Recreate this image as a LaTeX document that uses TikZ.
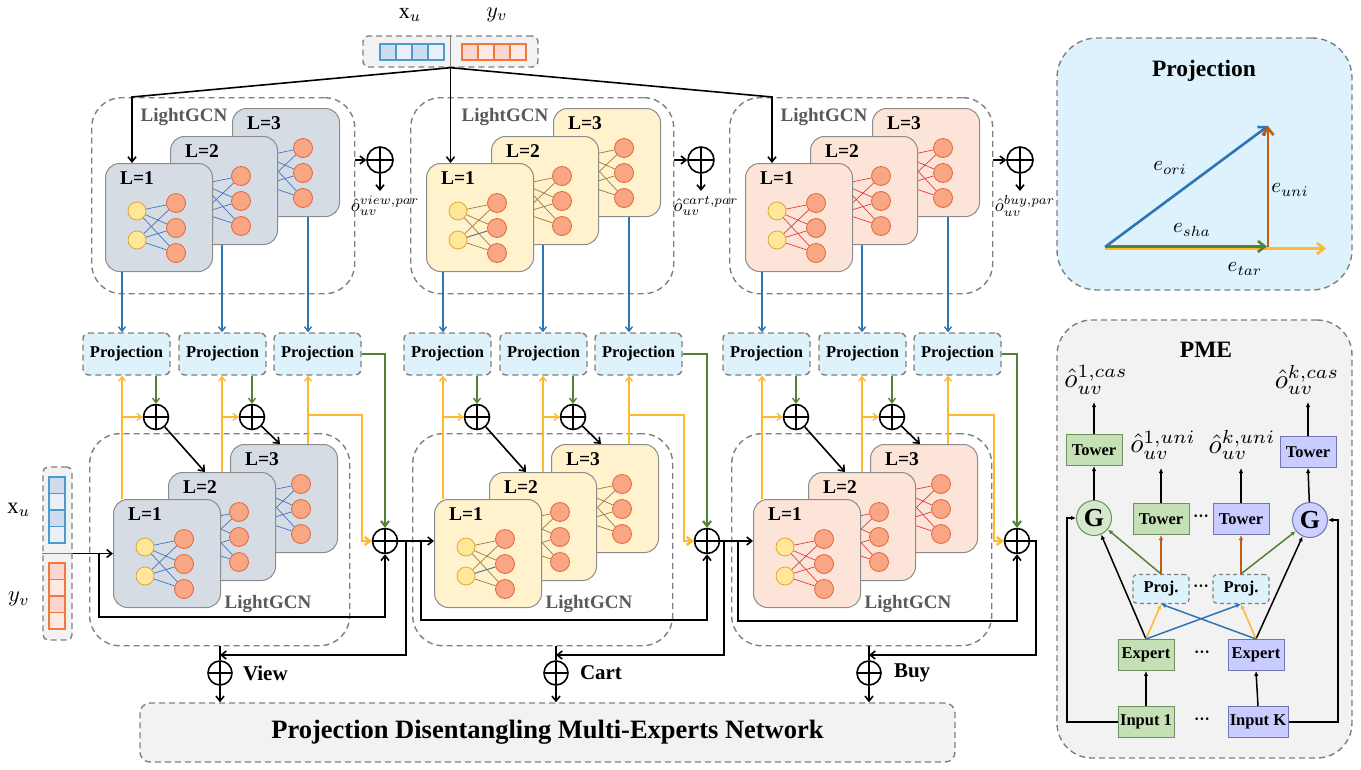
\documentclass[tikz,border=0pt]{standalone}
\usepackage{fontspec}
\usepackage{graphicx}
\setmainfont{Liberation Serif}
\usetikzlibrary{arrows.meta,calc}

\definecolor{dgray}{HTML}{7F7F7F}
\definecolor{projblue}{HTML}{DEF2FB}
\definecolor{panelblue}{HTML}{DDF2FC}
\definecolor{lgray}{HTML}{F2F2F2}
\definecolor{viewc}{HTML}{D6DCE4}
\definecolor{cartc}{HTML}{FFF2CD}
\definecolor{buyc}{HTML}{FDE4D8}
\definecolor{viewe}{HTML}{4472C4}
\definecolor{carte}{HTML}{9C7A3C}
\definecolor{buye}{HTML}{E03C3C}
\definecolor{ynode}{HTML}{FFE699}
\definecolor{ynodeb}{HTML}{D9A93A}
\definecolor{onode}{HTML}{F8A683}
\definecolor{onodeb}{HTML}{E2683A}
\definecolor{cardb}{HTML}{8C8C8C}
\definecolor{arrblue}{HTML}{2E75B6}
\definecolor{arrgreen}{HTML}{548235}
\definecolor{arryel}{HTML}{FFB92E}
\definecolor{arrred}{HTML}{C55A11}
\definecolor{pmeg}{HTML}{C5E0B4}
\definecolor{pmegb}{HTML}{6F8F5F}
\definecolor{pmegc}{HTML}{D5E8CC}
\definecolor{pmep}{HTML}{C9CCFF}
\definecolor{pmepb}{HTML}{7175B0}
\definecolor{pmepc}{HTML}{CDD1FF}
\definecolor{gcntext}{HTML}{595959}
\definecolor{cellb1}{HTML}{CFDCEC}
\definecolor{cellb2}{HTML}{E9EEF7}
\definecolor{cellbb}{HTML}{4A9BD4}
\definecolor{cello1}{HTML}{FCD5CF}
\definecolor{cello2}{HTML}{FDE8E3}
\definecolor{cellob}{HTML}{F0783A}

\newcommand\smath[2]{\scalebox{#1}{\fontsize{10}{12}\selectfont$#2$}}

\tikzset{
  dashbox/.style={draw=dgray, dash pattern=on 6pt off 4pt, line width=1.4pt},
  dashblock/.style={dashbox, rounded corners=30pt, anchor=north west, inner sep=0pt},
  card/.style={draw=cardb, line width=1pt, rounded corners=14pt, anchor=north west, minimum width=107pt, minimum height=108pt, inner sep=0pt},
  cardlbl/.style={font=\fontsize{19.5}{21}\selectfont\bfseries, inner sep=0pt},
  gcnlbl/.style={font=\fontsize{19}{21}\selectfont\bfseries, text=gcntext, inner sep=0pt},
  ynd/.style={circle, draw=ynodeb, fill=ynode, minimum size=18pt, inner sep=0pt, line width=0.8pt},
  ond/.style={circle, draw=onodeb, fill=onode, minimum size=19pt, inner sep=0pt, line width=0.8pt},
  projbox/.style={dashbox, fill=projblue, rounded corners=6pt, minimum width=87pt, minimum height=42pt, inner sep=0pt, font=\fontsize{16.5}{18}\selectfont\bfseries},
  oplus/.style={circle, draw=black, line width=1.6pt, minimum size=#1, inner sep=0pt,
     path picture={\draw[line width=1.6pt] (path picture bounding box.north) -- (path picture bounding box.south) (path picture bounding box.west) -- (path picture bounding box.east);}},
  oplus/.default=25pt,
  barb/.style={-{Straight Barb[length=5pt,width=8pt]}},
  blk/.style={draw=black, line width=1.6pt},
  blkarr/.style={blk, barb},
  bluearr/.style={draw=arrblue, line width=1.4pt, -{Straight Barb[length=4.5pt,width=7pt]}},
  greenarr/.style={draw=arrgreen, line width=1.4pt, -{Straight Barb[length=4.5pt,width=7pt]}},
  greenthick/.style={draw=arrgreen, line width=2.2pt, -{Straight Barb[length=5pt,width=8pt]}},
  yelarr/.style={draw=arryel, line width=1.4pt, -{Straight Barb[length=4.5pt,width=7pt]}},
  yelthick/.style={draw=arryel, line width=2.4pt, -{Straight Barb[length=5pt,width=8pt]}},
  netedge/.style={line width=0.7pt},
  mlbl/.style={inner sep=0pt},
  bigbold/.style={font=\fontsize{21}{23}\selectfont\bfseries, inner sep=0pt},
  paneltitle/.style={font=\fontsize{23.5}{26}\selectfont\bfseries, inner sep=0pt},
  vec/.style={line width=2.6pt, -{Straight Barb[length=7pt,width=11pt]}},
  pmebox/.style={line width=1pt, minimum width=56pt, minimum height=31pt, inner sep=0pt, font=\fontsize{16.5}{18}\selectfont\bfseries},
  gbox/.style={pmebox, draw=pmegb, fill=pmeg},
  pbox/.style={pmebox, draw=pmepb, fill=pmep},
  gcirc/.style={circle, draw=pmegb, fill=pmegc, line width=1pt, minimum size=35pt, inner sep=0pt, font=\fontsize{26}{28}\selectfont\bfseries},
  pcirc/.style={gcirc, draw=pmepb, fill=pmepc},
  pmeproj/.style={dashbox, line width=1.2pt, dash pattern=on 4pt off 3pt, fill=projblue, rounded corners=4pt, minimum width=56pt, minimum height=29pt, inner sep=0pt, font=\fontsize{16.5}{18}\selectfont\bfseries},
  dotlbl/.style={font=\fontsize{16}{18}\selectfont\bfseries, inner sep=0pt},
  pmearr/.style={draw=black, line width=1.5pt, -{Latex[length=5pt,width=4.5pt]}},
  redarr/.style={draw=arrred, line width=1.5pt, -{Latex[length=5pt,width=4.5pt]}},
  grnarr/.style={draw=arrgreen, line width=1.5pt, -{Latex[length=5pt,width=4.5pt]}},
  ylarr/.style={draw=arryel, line width=1.5pt, -{Latex[length=5pt,width=4.5pt]}},
  blarr/.style={draw=arrblue, line width=1.5pt, -{Latex[length=5pt,width=4.5pt]}},
}

\newcommand\gcncard[6]{%
  \node[card, fill=#5] (#1) at ({#2},{#3}) {};
  \node[cardlbl] at ({#2+32},{#3+15}) {#4};
  \node[ynd] (#1y1) at ({#2+32},{#3+48}) {};
  \node[ynd] (#1y2) at ({#2+32},{#3+77}) {};
  \node[ond] (#1o1) at ({#2+71},{#3+40}) {};
  \node[ond] (#1o2) at ({#2+71},{#3+65}) {};
  \node[ond] (#1o3) at ({#2+71},{#3+90}) {};
  \foreach \ya in {1,2}{\foreach \ob in {1,2,3}{\draw[netedge, draw=#6] (#1y\ya) -- (#1o\ob);}}%
}

\begin{document}
\begin{tikzpicture}[x=1pt,y=-1pt]
\useasboundingbox (0,0) rectangle (1361,769);

% ---------- top input ----------
\node[dashbox, fill=lgray, rounded corners=6pt, minimum width=175pt, minimum height=31pt, inner sep=0pt] (inT) at (450.5,51.5) {};
\foreach \i/\c in {0/cellb1,1/cellb2,2/cellb1,3/cellb2}
  \draw[draw=cellbb, line width=1.2pt, fill=\c] ({380+16*\i},44) rectangle ({396+16*\i},60);
\foreach \i/\c in {0/cello1,1/cello2,2/cello1,3/cello2}
  \draw[draw=cellob, line width=1.2pt, fill=\c] ({462+16*\i},44) rectangle ({478+16*\i},60);
\draw[dgray, line width=1.4pt] (inT.north) -- (inT.south);
\node[mlbl, anchor=base] (xuT) at (410,18) {\smath{2.2}{\mathrm{x}_u}};
\node[mlbl, anchor=base] (yvT) at (497,17) {\smath{2.2}{y_v}};

% ---------- blocks ----------
\foreach \bk/\ofs/\cf/\ce/\tx/\bx/\px/\nm in {1/0/viewc/viewe/91/89/385/view, 2/321/cartc/carte/410/412/707/cart, 3/640/buyc/buye/729/731/1017/buy}{
  % top LightGCN
  \node[dashblock, minimum width=263pt, minimum height=196pt] (T\bk) at (\tx,97) {};
  \node[gcnlbl] at ({184+\ofs},117) {LightGCN};
  \gcncard{t\bk c3}{232+\ofs}{108}{L=3}{\cf}{\ce}
  \gcncard{t\bk c2}{170+\ofs}{136}{L=2}{\cf}{\ce}
  \gcncard{t\bk c1}{105+\ofs}{163}{L=1}{\cf}{\ce}
  \node[oplus=26pt] (tp\bk) at ({380+\ofs},160) {};
  \draw[blkarr] (T\bk.east |- tp\bk) -- (tp\bk);
  \coordinate (td\bk) at ({380+\ofs},191);
  \draw[blkarr] (tp\bk) -- (td\bk);
  \node[mlbl] at ({385+\ofs},206) {\smath{1.85}{\hat{o}_{uv}^{\nm,par}}};
  % projection boxes
  \coordinate (bx\bk 1) at ({122+\ofs},0);
  \coordinate (bx\bk 2) at ({222+\ofs},0);
  \coordinate (bx\bk 3) at ({308+\ofs},0);
  \node[projbox] (p\bk 1) at ({126.5+\ofs},354) {Projection};
  \node[projbox] (p\bk 2) at ({222.5+\ofs},354) {Projection};
  \node[projbox] (p\bk 3) at ({317.5+\ofs},354) {Projection};
  \draw[bluearr] (bx\bk 1 |- t\bk c1.south) -- (bx\bk 1 |- p\bk 1.north);
  \draw[bluearr] (bx\bk 2 |- t\bk c2.south) -- (bx\bk 2 |- p\bk 2.north);
  \draw[bluearr] (bx\bk 3 |- t\bk c3.south) -- (bx\bk 3 |- p\bk 3.north);
  % bottom LightGCN
  \node[dashblock, minimum width=260pt, minimum height=212pt] (B\bk) at (\bx,433) {};
  \node[gcnlbl] at ({268+\ofs},604) {LightGCN};
  \gcncard{b\bk c3}{230+\ofs}{444}{L=3}{\cf}{\ce}
  \gcncard{b\bk c2}{168+\ofs}{472}{L=2}{\cf}{\ce}
  \gcncard{b\bk c1}{113+\ofs}{499}{L=1}{\cf}{\ce}
  % middle sums
  \node[oplus] (m\bk 1) at ({156+\ofs},417) {};
  \node[oplus] (m\bk 2) at ({252+\ofs},417) {};
  \node[oplus] (P\bk) at (\px,541) {};
  \draw[greenarr] (m\bk 1 |- p\bk 1.south) -- (m\bk 1);
  \draw[greenarr] (m\bk 2 |- p\bk 2.south) -- (m\bk 2);
  \draw[yelarr] (bx\bk 1 |- b\bk c1.north) -- (bx\bk 1 |- p\bk 1.south);
  \draw[yelarr] (bx\bk 1 |- m\bk 1) -- (m\bk 1);
  \draw[yelarr] (bx\bk 2 |- b\bk c2.north) -- (bx\bk 2 |- p\bk 2.south);
  \draw[yelarr] (bx\bk 2 |- m\bk 2) -- (m\bk 2);
  \draw[yelarr] (bx\bk 3 |- b\bk c3.north) -- (bx\bk 3 |- p\bk 3.south);
  \coordinate (yb\bk) at ({308+\ofs},415);
  \coordinate (yd\bk) at ({\px-23},541);
  \draw[yelthick] (yb\bk) -| (yd\bk) -- (P\bk.west);
  \draw[greenthick] (p\bk 3.east) -| (P\bk.north);
  \draw[blkarr] (m\bk 1) -- ([xshift=37pt]b\bk c2.north west);
  \draw[blkarr] (m\bk 2) -- ([xshift=50pt]b\bk c3.north west);
}
\draw[netedge, draw=viewe] (t2c1y2) -- (t2c1o2);
\draw[netedge, draw=viewe] (b2c1y2) -- (b2c1o2);

% ---------- top input connectors ----------
\coordinate (a1) at ([xshift=27pt]t1c1.north west);
\coordinate (a3) at ([xshift=27pt]t3c1.north west);
\draw[blkarr] (inT.south) -- (a1 |- T1.north) -- (a1);
\draw[blkarr] (inT.south) -- (inT.south |- t2c1.north);
\draw[blkarr] (inT.south) -- (a3 |- T3.north) -- (a3);

% ---------- left input ----------
\node[dashbox, fill=lgray, rounded corners=5pt, minimum width=29pt, minimum height=173pt, inner sep=0pt] (inL) at (57.5,553.5) {};
\foreach \i/\c in {0/cellb1,1/cellb2,2/cellb1,3/cellb2}
  \draw[draw=cellbb, line width=1.2pt, fill=\c] (49,{477+16.5*\i}) rectangle (65,{493.5+16.5*\i});
\foreach \i/\c in {0/cello1,1/cello2,2/cello1,3/cello2}
  \draw[draw=cellob, line width=1.2pt, fill=\c] (49,{563+16.5*\i}) rectangle (65,{579.5+16.5*\i});
\draw[dgray, line width=1.4pt] (inL.west) -- (inL.east);
\node[mlbl] (xuL) at (19,510) {\smath{2.25}{\mathrm{x}_u}};
\node[mlbl] (yvL) at (19,599) {\smath{2.25}{y_v}};

% ---------- bottom title ----------
\node[dashbox, fill=lgray, rounded corners=10pt, minimum width=815pt, minimum height=59pt, inner sep=0pt, font=\fontsize{26.5}{28}\selectfont\bfseries] (title) at (547.5,732.5) {Projection Disentangling Multi-Experts Network};

% ---------- behaviour sums ----------
\node[oplus=24pt] (V) at (220,673) {};
\node[oplus=24pt] (C) at (556,673) {};
\node[oplus=24pt] (Y) at (869,673) {};
\node[bigbold, anchor=west] at ([xshift=10pt]V.east) {View};
\node[bigbold, anchor=west] at ([xshift=11pt]C.east) {Cart};
\node[bigbold, anchor=west] at ([xshift=12pt]Y.east) {Buy};
\foreach \s/\bb in {V/B1,C/B2,Y/B3}{
  \draw[blk] (\s |- \bb.south) -- (\s.north);
  \draw[blkarr] (\s.south) -- (\s |- title.north);
}

% ---------- main flow ----------
\draw[blkarr] (inL.east) -- (b1c1.west);
\coordinate (j1) at (99,553.5);
\coordinate (l1) at (99,617);
\draw[blkarr] (j1) -- (l1) -| (P1.south);
\draw[blkarr] (P1.east) -- (P1 -| b2c1.west);
\coordinate (j2a) at (406,541);
\coordinate (vj) at (220,655);
\draw[blkarr] (j2a) |- (vj);
\coordinate (j2b) at (421,541);
\coordinate (l2) at (421,620);
\draw[blkarr] (j2b) -- (l2) -| (P2.south);
\draw[blkarr] (P2.east) -- (P2 -| b3c1.west);
\coordinate (j3a) at (724,541);
\coordinate (cj) at (556,655);
\draw[blkarr] (j3a) |- (cj);
\coordinate (j3b) at (738,541);
\coordinate (l3) at (738,621);
\draw[blkarr] (j3b) -- (l3) -| (P3.south);
\coordinate (j4) at (1036,541);
\coordinate (bj) at (869,655);
\draw[blkarr] (P3.east) -- (j4) |- (bj);

% ---------- Projection panel ----------
\node[dashbox, fill=panelblue, rounded corners=40pt, minimum width=295pt, minimum height=252pt, inner sep=0pt] (projP) at (1204.5,164) {};
\node[paneltitle] at (1204,71) {Projection};
\coordinate (vO) at (1105,247);
\coordinate (vOy) at (1105,248.5);
\coordinate (vC) at (1326,248.5);
\coordinate (vB) at (1268,247);
\coordinate (vBg) at (1267,246.5);
\coordinate (vOg) at (1105,246.5);
\coordinate (vA) at (1268,126);
\draw[vec, draw=arryel] (vOy) -- (vC);
\draw[vec, draw=arrgreen] (vOg) -- (vBg);
\draw[vec, draw=arrblue] (vO) -- (vA);
\draw[vec, draw=arrred] (vB) -- (vA);
\node[mlbl] at (1170,168) {\smath{2.1}{e_{ori}}};
\node[mlbl] at (1290,190) {\smath{2.1}{e_{uni}}};
\node[mlbl] at (1192,230) {\smath{2.1}{e_{sha}}};
\node[mlbl] at (1245,269) {\smath{2.1}{e_{tar}}};

% ---------- PME panel ----------
\node[dashbox, fill=lgray, rounded corners=35pt, minimum width=295pt, minimum height=438pt, inner sep=0pt] (pme) at (1204.5,539) {};
\node[paneltitle] at (1206,350) {PME};
\node[gbox] (TL) at (1094,450) {Tower};
\node[pbox] (TR) at (1308,452) {Tower};
\node[gcirc] (GL) at (1094,518) {G};
\node[pcirc] (GR) at (1310,520) {G};
\node[gbox] (TML) at (1161,519) {Tower};
\node[pbox] (TMR) at (1241,519) {Tower};
\node[pmeproj] (PL) at (1161,589) {Proj.};
\node[pmeproj] (PR) at (1241,589) {Proj.};
\node[gbox] (EL) at (1146,655) {Expert};
\node[pbox] (ER) at (1256,655) {Expert};
\node[gbox] (IL) at (1146,722) {Input 1};
\node[pbox, minimum width=60pt] (IK) at (1258,722) {Input K};
\node[dotlbl] (dt1) at (1201,518) {···};
\node[dotlbl] (dt2) at (1201,588) {···};
\node[dotlbl] (dt3) at (1202,654) {···};
\node[dotlbl] (dt4) at (1202,721) {···};
\node[mlbl] (oc1) at (1096,380) {\smath{2.7}{\hat{o}_{uv}^{1,cas}}};
\node[mlbl] (ock) at (1307,380) {\smath{2.7}{\hat{o}_{uv}^{k,cas}}};
\node[mlbl] (ou1) at (1163,445) {\smath{2.7}{\hat{o}_{uv}^{1,uni}}};
\node[mlbl] (ouk) at (1242,445) {\smath{2.7}{\hat{o}_{uv}^{k,uni}}};
\coordinate (ac1) at (1094,402);
\coordinate (ack) at (1308,402);
\coordinate (au1) at (1161,468);
\coordinate (auk) at (1241,468);
\draw[pmearr] (TL.north) -- (ac1);
\draw[pmearr] (TR.north) -- (ack);
\draw[pmearr] (TML.north) -- (au1);
\draw[pmearr] (TMR.north) -- (auk);
\draw[pmearr] (GL) -- (TL.south);
\draw[pmearr] (GR) -- (TR.south);
\draw[redarr] (PL.north) -- (TML.south);
\draw[redarr] (PR.north) -- (TMR.south);
\draw[grnarr] (PL.north) -- (GL);
\draw[grnarr] (PR.north) -- (GR);
\draw[pmearr] (EL.north) -- (GL);
\draw[pmearr] (ER.north) -- (GR);
\draw[ylarr] (EL.north) -- (PL.south);
\draw[ylarr] (ER.north) -- (PR.south);
\draw[blarr] (EL.north) -- (PR.south);
\draw[blarr] (ER.north) -- (PL.south);
\draw[pmearr] (IL.north) -- (EL.south);
\draw[pmearr] (IK.north) -- (ER.south);
\coordinate (il1) at (1067,722);
\coordinate (ik1) at (1338,722);
\draw[pmearr] (IL.west) -- (il1) |- (GL.west);
\draw[pmearr] (IK.east) -- (ik1) |- (GR.east);
\end{tikzpicture}
\end{document}
